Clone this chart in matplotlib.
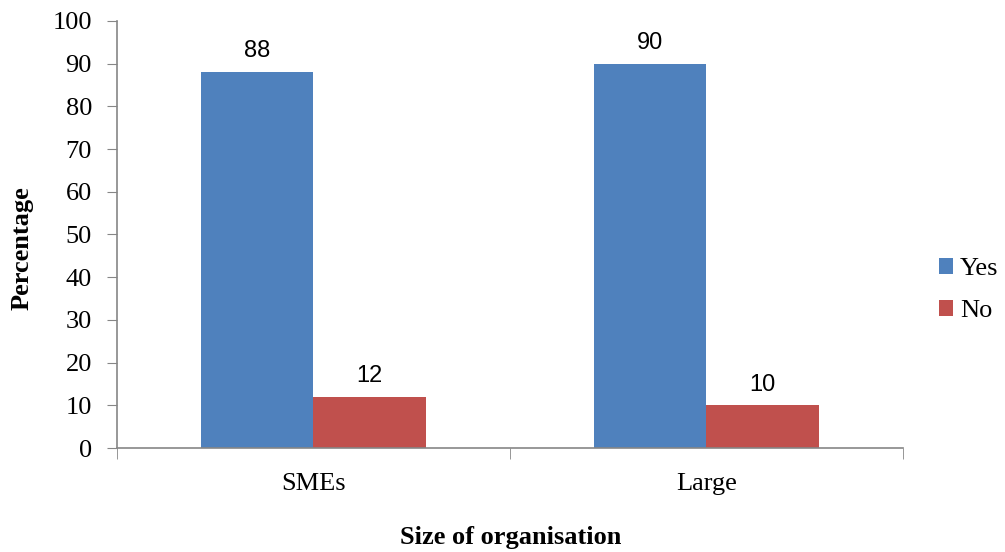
import matplotlib
matplotlib.use('Agg')
import matplotlib.pyplot as plt
import numpy as np

categories = ['SMEs', 'Large']
yes_values = [88, 90]
no_values = [12, 10]
series_names = ['Yes', 'No']
y_ticks = [0, 10, 20, 30, 40, 50, 60, 70, 80, 90, 100]

serif = 'Liberation Serif'
fig = plt.figure(figsize=(10.05, 5.52), dpi=100)
ax = fig.add_axes([0.1164, 0.1884, 0.782, 0.7736])

x = np.arange(len(categories))
w = 0.2857
b1 = ax.bar(x - w / 2, yes_values, w, color='#4F81BD', label=series_names[0])
b2 = ax.bar(x + w / 2, no_values, w, color='#C0504D', label=series_names[1])

for bars in (b1, b2):
    for rect in bars:
        ax.annotate(f'{rect.get_height():.0f}',
                    (rect.get_x() + rect.get_width() / 2, rect.get_height()),
                    xytext=(0, 7), textcoords='offset points',
                    ha='center', va='bottom', fontsize=17, family='Liberation Sans')

ax.set_xlim(-0.5, len(categories) - 0.5)
ax.set_ylim(0, 100)
ax.set_yticks(y_ticks)
ax.set_yticklabels([str(t) for t in y_ticks], family=serif, fontsize=19)

# category labels centered, tick marks at category boundaries
ax.set_xticks(x)
ax.set_xticklabels(categories, family=serif, fontsize=19)
ax.tick_params(axis='x', length=0, pad=18)
ax.set_xticks(np.arange(len(categories) + 1) - 0.5, minor=True)
ax.tick_params(axis='x', which='minor', length=8, color='#868686', direction='out')
ax.tick_params(axis='y', length=7, color='#868686', direction='out', pad=11)

for s in ['top', 'right']:
    ax.spines[s].set_visible(False)
for s in ['left', 'bottom']:
    ax.spines[s].set_color('#868686')
    ax.spines[s].set_linewidth(1.2)

fig.text(0.022, 0.55, 'Percentage', rotation=90, ha='center', va='center',
         family=serif, fontsize=19, fontweight='bold')
fig.text(0.508, 0.027, 'Size of organisation', ha='center', va='center',
         family=serif, fontsize=19, fontweight='bold')

leg = fig.legend(handles=[b1, b2], labels=series_names, loc='center left',
                 bbox_to_anchor=(0.934, 0.475), frameon=False,
                 prop={'family': serif, 'size': 19}, handlelength=0.55,
                 handleheight=0.55, handletextpad=0.25, labelspacing=0.75,
                 borderpad=0, borderaxespad=0)

fig.savefig('out.png', dpi=100)
